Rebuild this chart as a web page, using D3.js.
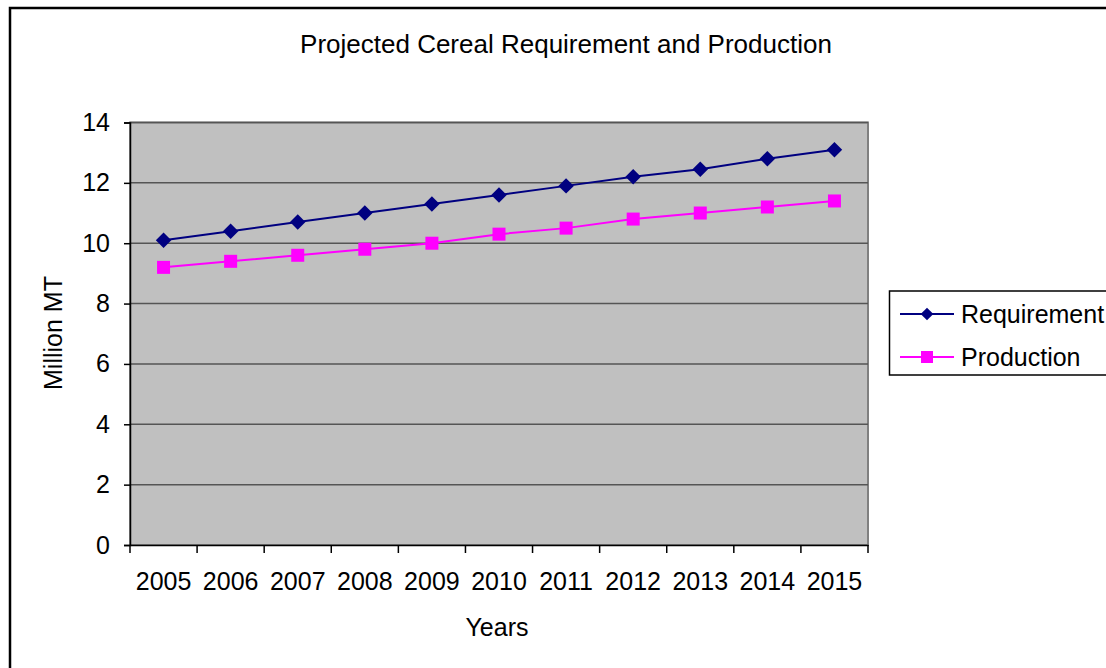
<!DOCTYPE html>
<html><head><meta charset="utf-8">
<script src="https://cdn.jsdelivr.net/npm/d3@7"></script>
<style>body{margin:0;background:#fff}svg{display:block;font-family:"Liberation Sans",Arial,sans-serif}</style>
</head><body><svg id="c" width="1106" height="668"></svg>
<script>
const years = ["2005","2006","2007","2008","2009","2010","2011","2012","2013","2014","2015"];
const requirement = [10.1,10.4,10.7,11.0,11.3,11.6,11.9,12.2,12.45,12.8,13.1];
const production = [9.2,9.4,9.6,9.8,10.0,10.3,10.5,10.8,11.0,11.2,11.4];
const yTicks = [0,2,4,6,8,10,12,14];
const seriesNames = ["Requirement","Production"];

const FS = 25;
const svg = d3.select("#c");
const L=130,R=868,T=122.5,B=545;
const x = d3.scaleBand().domain(years).range([L,R]);
const y = d3.scaleLinear().domain([0,14]).range([B,T]);

svg.append("rect").attr("x",10).attr("y",8).attr("width",1200).attr("height",700)
  .attr("fill","#fff").attr("stroke","#000").attr("stroke-width",2.5);

svg.append("text").attr("x",566).attr("y",53).attr("text-anchor","middle")
  .attr("font-size",26).text("Projected Cereal Requirement and Production");

svg.append("rect").attr("x",L).attr("y",T).attr("width",R-L).attr("height",B-T)
  .attr("fill","#C0C0C0").attr("stroke","#808080").attr("stroke-width",2);

svg.append("g").selectAll("line").data(yTicks.filter(d=>d>0)).join("line")
  .attr("x1",L).attr("x2",R).attr("y1",d=>y(d)).attr("y2",d=>y(d))
  .attr("stroke","#555").attr("stroke-width",1.5);

const ya = svg.append("g").attr("transform",`translate(${L},0)`)
  .call(d3.axisLeft(y).tickValues(yTicks).tickSize(6).tickPadding(14).tickFormat(d3.format("d")));
ya.select(".domain").attr("stroke","#000").attr("stroke-width",1.5);
ya.selectAll(".tick line").attr("stroke","#000").attr("stroke-width",1.5);
ya.selectAll("text").attr("font-size",FS).attr("font-family","Liberation Sans, Arial, sans-serif").attr("fill","#000");

const xa = svg.append("g").attr("transform",`translate(0,${B})`)
  .call(d3.axisBottom(x).tickSize(0).tickPadding(27));
xa.select(".domain").attr("stroke","#000").attr("stroke-width",1.5);
xa.selectAll("text").attr("font-size",FS).attr("font-family","Liberation Sans, Arial, sans-serif").attr("fill","#000");
const bounds = years.map(d=>x(d)).concat([R]);
svg.append("g").selectAll("line").data(bounds).join("line")
  .attr("x1",d=>d).attr("x2",d=>d).attr("y1",B).attr("y2",B+8)
  .attr("stroke","#000").attr("stroke-width",1.5);

svg.append("text").attr("x",497).attr("y",636).attr("text-anchor","middle")
  .attr("font-size",FS).text("Years");
svg.append("text").attr("transform","translate(62,333) rotate(-90)").attr("text-anchor","middle")
  .attr("font-size",FS).text("Million MT");

const cx = d=>x(d)+x.bandwidth()/2;
const line = d3.line().x((d,i)=>cx(years[i])).y(d=>y(d));
const colors = ["#000080","#FF00FF"];
const data = [requirement, production];
data.forEach((vals,k)=>{
  svg.append("path").datum(vals).attr("d",line).attr("fill","none")
    .attr("stroke",colors[k]).attr("stroke-width",2);
  const g = svg.append("g");
  vals.forEach((v,i)=>{
    if(k===0){
      g.append("path").attr("d",d3.symbol().type(d3.symbolSquare).size(120)())
        .attr("transform",`translate(${cx(years[i])},${y(v)}) rotate(45)`).attr("fill",colors[k]);
    } else {
      g.append("rect").attr("x",cx(years[i])-6.5).attr("y",y(v)-6.5).attr("width",13).attr("height",13).attr("fill",colors[k]);
    }
  });
});

// legend
svg.append("rect").attr("x",889.5).attr("y",291).attr("width",260).attr("height",84)
  .attr("fill","#fff").attr("stroke","#000").attr("stroke-width",1.5);
seriesNames.forEach((n,k)=>{
  const yy = k===0?314:357;
  svg.append("line").attr("x1",900).attr("x2",954).attr("y1",yy).attr("y2",yy).attr("stroke",colors[k]).attr("stroke-width",2);
  if(k===0){
    svg.append("path").attr("d",d3.symbol().type(d3.symbolSquare).size(80)())
      .attr("transform",`translate(927,${yy}) rotate(45)`).attr("fill",colors[k]);
  } else {
    svg.append("rect").attr("x",921).attr("y",yy-6).attr("width",12).attr("height",12).attr("fill",colors[k]);
  }
  svg.append("text").attr("x",961).attr("y",yy+9).attr("font-size",FS).text(n);
});
</script></body></html>
